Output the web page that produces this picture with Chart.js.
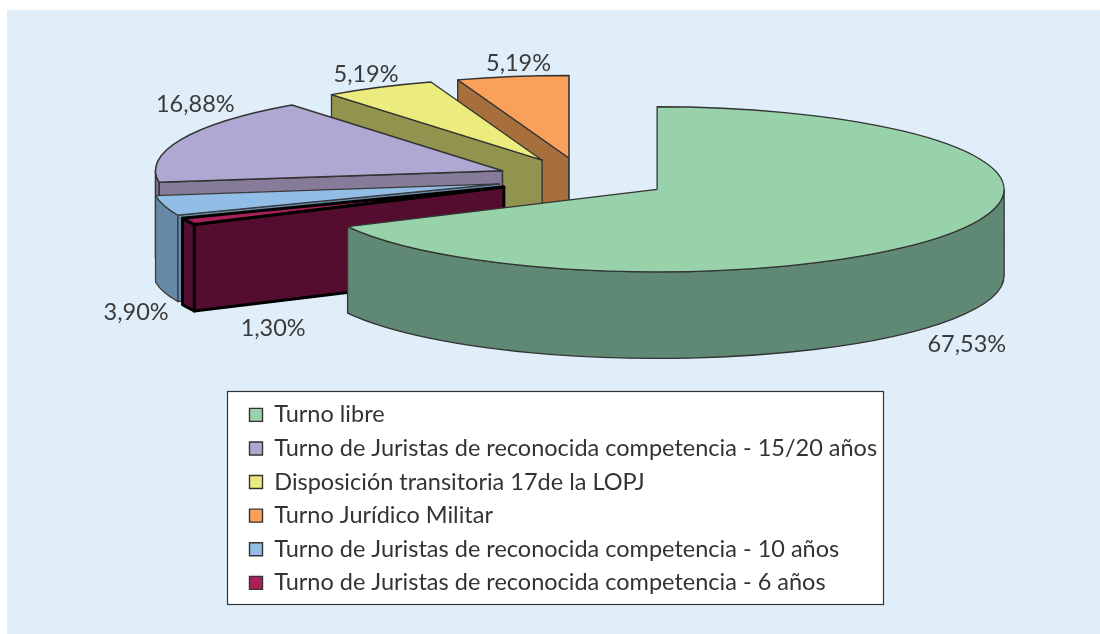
<!DOCTYPE html>
<html>
<head>
<meta charset="utf-8">
<style>html,body{margin:0;padding:0;background:#fff}canvas{display:block}</style>
<script src="https://cdn.jsdelivr.net/npm/chart.js@4/dist/chart.umd.min.js"></script>
</head>
<body>
<canvas id="c" width="1100" height="634"></canvas>
<script>
// Data, in clockwise slice order from the top of the pie
const categories = [
  'Turno libre',
  'Turno de Juristas de reconocida competencia - 6 años',
  'Turno de Juristas de reconocida competencia - 10 años',
  'Turno de Juristas de reconocida competencia - 15/20 años',
  'Disposición transitoria 17de la LOPJ',
  'Turno Jurídico Militar'
];
const values = [67.53, 1.30, 3.90, 16.88, 5.19, 5.19];
const legendOrder = [0, 3, 4, 5, 2, 1];
const topColors = ['#98D2AA', '#A92059', '#92BDE6', '#AEA8D3', '#EBEB7E', '#F9A15B'];
const wallColors = ['#5F8875', '#540D2F', '#6789A8', '#867B98', '#92934F', '#A66F3B'];
const edgeColors = ['#333333', '#000000', '#3a3a3a', '#333333', '#333333', '#333333'];
const edgeWidths = [1.3, 3, 1.2, 1.5, 1.3, 1.3];

// Style / projection
const TILT = 0.238, DEPTH = 86.5, EXPLODE = 87, RADIUS = 347;
const labelNudges = [[14,112],[85,107],[-28,107],[14,-35],[-13,-13],[6,-13]];
const FONT = 'Lato, "Open Sans", sans-serif';

function geometry(arc, i) {
  const mid = (arc.startAngle + arc.endAngle) / 2;
  const ax = arc.x + Math.cos(mid) * EXPLODE;
  const ay = arc.y + Math.sin(mid) * EXPLODE * TILT;
  return {i, arc, mid, ax, ay, a: arc.startAngle, b: arc.endAngle, r: arc.outerRadius, ry: arc.outerRadius * TILT};
}

const pie3d = {
  id: 'pie3d',
  beforeDraw(chart) {
    const c = chart.ctx;
    c.save();
    c.fillStyle = '#ffffff'; c.fillRect(0, 0, 1100, 634);
    c.fillStyle = '#DFEEF9'; c.fillRect(7, 10, 1093, 624);
    c.fillStyle = '#ffffff'; c.fillRect(227.5, 391.5, 656, 213);
    c.strokeStyle = '#333333'; c.lineWidth = 1.2;
    c.strokeRect(227.5, 391.5, 656, 213);
    c.restore();
  },
  afterLayout(chart) {
    const l = chart.legend;
    l.left = 239.4; l.top = 393; l.width = 640; l.height = 230;
    l.right = l.left + l.width; l.bottom = l.top + l.height;
  },
  beforeDatasetDraw(chart, args) {
    const c = chart.ctx;
    const arcs = args.meta.data.map(geometry).sort((p, q) => p.ay - q.ay);
    for (const s of arcs) {
      c.save();
      c.lineJoin = 'round';
      c.strokeStyle = edgeColors[s.i];
      c.lineWidth = edgeWidths[s.i];
      c.fillStyle = wallColors[s.i];
      // radial faces, only when they turn toward the viewer
      const faces = [];
      if (Math.cos(s.a) < 0) faces.push(s.a);
      if (Math.cos(s.b) > 0) faces.push(s.b);
      for (const t of faces) {
        const rx = s.ax + Math.cos(t) * s.r, ry = s.ay + Math.sin(t) * s.ry;
        c.beginPath();
        c.moveTo(s.ax, s.ay); c.lineTo(rx, ry);
        c.lineTo(rx, ry + DEPTH); c.lineTo(s.ax, s.ay + DEPTH);
        c.closePath(); c.fill(); c.stroke();
      }
      // outer wall: only the front half of the rim can be seen
      const from = Math.max(s.a, 0), to = Math.min(s.b, Math.PI);
      if (to > from) {
        c.beginPath();
        c.ellipse(s.ax, s.ay, s.r, s.ry, 0, from, to);
        c.ellipse(s.ax, s.ay + DEPTH, s.r, s.ry, 0, to, from, true);
        c.closePath(); c.fill(); c.stroke();
      }
      // top face: the library's own arc element, squashed and moved out
      c.save();
      c.translate(s.ax, s.ay);
      c.scale(1, TILT);
      c.translate(-s.arc.x, -s.arc.y);
      s.arc.draw(c);
      c.restore();
      c.beginPath();
      c.moveTo(s.ax, s.ay);
      c.ellipse(s.ax, s.ay, s.r, s.ry, 0, s.a, s.b);
      c.closePath(); c.stroke();
      c.restore();
    }
    return false;
  },
  afterDatasetsDraw(chart) {
    const c = chart.ctx;
    c.save();
    c.font = '23.5px ' + FONT;
    c.fillStyle = '#3a3a3a';
    c.textAlign = 'center';
    c.textBaseline = 'middle';
    chart.getDatasetMeta(0).data.forEach((arc, i) => {
      const s = geometry(arc, i);
      const x = s.ax + Math.cos(s.mid) * s.r + labelNudges[i][0];
      const y = s.ay + Math.sin(s.mid) * s.ry + labelNudges[i][1];
      c.fillText(values[i].toFixed(2).replace('.', ',') + '%', x, y);
    });
    c.restore();
  }
};

new Chart(document.getElementById('c'), {
  type: 'pie',
  data: {
    labels: categories,
    datasets: [{
      data: values,
      backgroundColor: topColors,
      borderWidth: 0,
      radius: RADIUS,
      clip: false
    }]
  },
  options: {
    responsive: false,
    animation: false,
    layout: { padding: { left: 66, bottom: 277 } },
    plugins: {
      tooltip: { enabled: false },
      legend: {
        position: 'chartArea',
        align: 'start',
        labels: {
          color: '#333333',
          font: { family: FONT, size: 23.5 },
          boxWidth: 13, boxHeight: 13, padding: 10.1,
          sort: (p, q) => legendOrder.indexOf(p.index) - legendOrder.indexOf(q.index),
          generateLabels(chart) {
            return Chart.overrides.pie.plugins.legend.labels.generateLabels(chart)
              .map(item => Object.assign(item, { strokeStyle: '#333333', lineWidth: 1.4 }));
          }
        }
      }
    }
  },
  plugins: [pie3d]
});
</script>
</body>
</html>
